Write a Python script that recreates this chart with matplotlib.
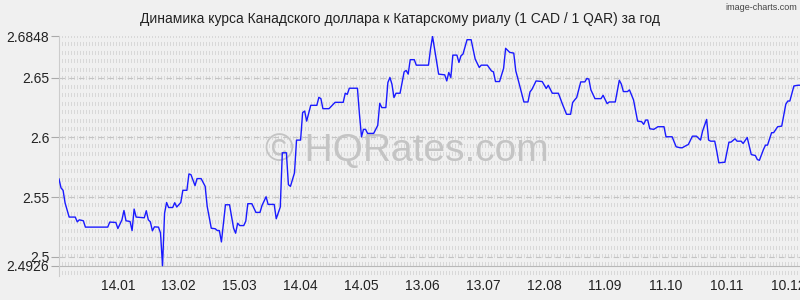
import matplotlib
matplotlib.use('Agg')
import matplotlib.pyplot as plt
import matplotlib.dates as mdates
import numpy as np

plt.rcParams['font.family'] = ['Liberation Sans', 'DejaVu Sans']
plt.rcParams['lines.scale_dashes'] = False

# days since 16.12.2024 and CAD/QAR rate at the turning points of the line
start = np.datetime64('2024-12-16')
days = [0, 1, 2, 3, 5, 8, 9, 10, 12, 13,
        24, 25, 28, 29, 31, 32, 33, 35, 36, 37,
        38, 42, 43, 44, 45, 46, 47, 49, 50, 51,
        52, 53, 54, 56, 57, 58, 60, 61, 63, 64,
        65, 67, 68, 70, 72, 73, 75, 77, 78, 79,
        80, 82, 84, 86, 87, 88, 89, 91, 92, 93,
        95, 97, 99, 100, 102, 103, 106, 107, 109, 110,
        112, 113, 114, 116, 117, 119, 120, 121, 122, 124,
        127, 128, 129, 130, 133, 136, 140, 141, 142, 143,
        147, 148, 149, 150, 151, 152, 155, 157, 158, 159,
        161, 162, 163, 164, 165, 166, 168, 170, 171, 172,
        173, 175, 176, 182, 183, 184, 185, 187, 190, 191,
        192, 193, 194, 196, 197, 198, 199, 201, 203, 205,
        207, 208, 211, 213, 214, 215, 217, 219, 220, 222,
        224, 225, 226, 229, 231, 232, 233, 235, 238, 240,
        241, 243, 246, 248, 250, 252, 253, 254, 255, 257,
        259, 260, 261, 262, 264, 267, 268, 270, 271, 274,
        276, 277, 278, 280, 281, 283, 285, 287, 288, 289,
        290, 291, 293, 295, 298, 299, 302, 304, 306, 307,
        309, 310, 312, 314, 316, 317, 319, 320, 321, 323,
        324, 325, 328, 330, 331, 333, 334, 336, 337, 339,
        341, 343, 344, 345, 347, 348, 349, 351, 352, 354,
        356, 358, 359, 360, 362, 364, 365]
rate = [2.5652, 2.5577, 2.5557, 2.5451, 2.5333, 2.5333, 2.5293, 2.5310, 2.5302, 2.5249,
        2.5249, 2.5291, 2.5288, 2.5237, 2.5310, 2.5388, 2.5302, 2.5296, 2.5220, 2.5400,
        2.5333, 2.5327, 2.5386, 2.5310, 2.5293, 2.5218, 2.5251, 2.5249, 2.5200, 2.4926,
        2.5366, 2.5455, 2.5413, 2.5413, 2.5453, 2.5417, 2.5455, 2.5557, 2.5557, 2.5694,
        2.5688, 2.5596, 2.5655, 2.5655, 2.5590, 2.5422, 2.5240, 2.5235, 2.5220, 2.5220,
        2.5125, 2.5436, 2.5436, 2.5240, 2.5198, 2.5282, 2.5262, 2.5262, 2.5299, 2.5445,
        2.5445, 2.5372, 2.5372, 2.5430, 2.5503, 2.5439, 2.5439, 2.5319, 2.5417, 2.5871,
        2.5871, 2.5604, 2.5590, 2.5703, 2.5977, 2.5977, 2.6207, 2.6220, 2.6136, 2.6268,
        2.6268, 2.6335, 2.6324, 2.6240, 2.6240, 2.6293, 2.6293, 2.6369, 2.6360, 2.6411,
        2.6411, 2.6193, 2.6005, 2.6067, 2.6067, 2.6033, 2.6033, 2.6100, 2.6285, 2.6249,
        2.6249, 2.6459, 2.6501, 2.6445, 2.6333, 2.6369, 2.6369, 2.6548, 2.6560, 2.6529,
        2.6650, 2.6650, 2.6604, 2.6604, 2.6739, 2.6845, 2.6739, 2.6529, 2.6523, 2.6472,
        2.6543, 2.6501, 2.6688, 2.6688, 2.6627, 2.6682, 2.6697, 2.6817, 2.6817, 2.6655,
        2.6585, 2.6604, 2.6604, 2.6556, 2.6548, 2.6467, 2.6467, 2.6577, 2.6745, 2.6711,
        2.6705, 2.6556, 2.6493, 2.6296, 2.6296, 2.6380, 2.6403, 2.6472, 2.6467, 2.6409,
        2.6436, 2.6369, 2.6369, 2.6277, 2.6193, 2.6193, 2.6291, 2.6313, 2.6333, 2.6464,
        2.6464, 2.6493, 2.6487, 2.6397, 2.6324, 2.6324, 2.6352, 2.6282, 2.6296, 2.6296,
        2.6478, 2.6445, 2.6383, 2.6383, 2.6397, 2.6313, 2.6136, 2.6131, 2.6109, 2.6145,
        2.6145, 2.6072, 2.6067, 2.6089, 2.6089, 2.6005, 2.6005, 2.5921, 2.5913, 2.5913,
        2.5932, 2.5940, 2.6010, 2.6010, 2.5977, 2.6052, 2.6150, 2.5977, 2.5968, 2.5968,
        2.5884, 2.5787, 2.5792, 2.5960, 2.5960, 2.5988, 2.5968, 2.5968, 2.5949, 2.5999,
        2.5856, 2.5848, 2.5814, 2.5808, 2.5898, 2.5935, 2.5935, 2.6039, 2.6039, 2.6089,
        2.6094, 2.6277, 2.6304, 2.6304, 2.6430, 2.6436, 2.6436]

tick_dates = ['2025-01-14', '2025-02-13', '2025-03-15', '2025-04-14', '2025-05-14', '2025-06-13',
              '2025-07-13', '2025-08-12', '2025-09-11', '2025-10-11', '2025-11-10', '2025-12-10']
y_ticks = [2.4926, 2.5, 2.55, 2.6, 2.65, 2.6848]

title = 'Динамика курса Канадского доллара к Катарскому риалу (1 CAD / 1 QAR) за год'

dates = start + np.array(days).astype('timedelta64[D]')

bg = '#f0f0f0'
fig = plt.figure(figsize=(8, 3), dpi=100, facecolor=bg)
ax = fig.add_axes([0.07375, 0.08, 0.92625, 0.80])
ax.set_facecolor(bg)

y_top, y_bot = 2.6848, 2.4840
ax.set_ylim(y_bot, y_top)
ax.set_xlim(start, start + np.timedelta64(365, 'D'))

# background pattern: rows of short vertical dashes
for k in range(29):
    ax.axhline(y_top - k * 0.00708, color='#d8d8d8', lw=2.9,
               dashes=(0.72, 1.44), zorder=0)
for v in [2.5, 2.55, 2.6, 2.65]:
    ax.axhline(v, color='#c4c4c4', lw=0.8, dashes=(4, 3), zorder=1)
ax.axhline(2.4926, color='#b8b8b8', lw=0.8, zorder=1)

ax.text(0.47, 0.52, '© HQRates.com', transform=ax.transAxes, fontsize=28,
        color='#c4c4c4', ha='center', va='center', zorder=1)

ax.plot(dates, rate, color='#1a1aff', lw=1.0, zorder=3)

for s in ['top', 'right', 'bottom']:
    ax.spines[s].set_visible(False)
ax.spines['left'].set_color('#cccccc')

ax.set_yticks(y_ticks)
ax.set_yticklabels(['2.4926', '2.5', '2.55', '2.6', '2.65', '2.6848'])
ax.set_xticks([np.datetime64(d) for d in tick_dates])
ax.xaxis.set_major_formatter(mdates.DateFormatter('%d.%m'))
ax.tick_params(axis='y', length=6, color='#aaaaaa', labelsize=10, labelcolor='#222222', pad=1)
ax.tick_params(axis='x', length=0, labelsize=10, labelcolor='#222222', pad=2)

fig.text(0.5, 0.935, title, ha='center', va='center', fontsize=10, color='#222222')
fig.text(0.996, 0.975, 'image-charts.com', ha='right', va='center', fontsize=6.5, color='#444444')

plt.savefig('out.png', dpi=100, facecolor=bg)
